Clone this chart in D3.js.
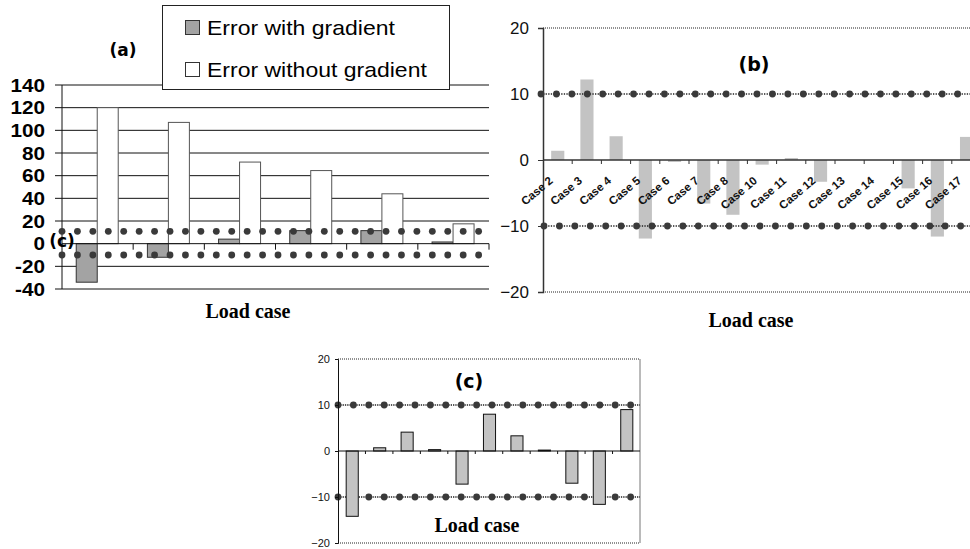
<!DOCTYPE html>
<html>
<head>
<meta charset="utf-8">
<script src="https://cdnjs.cloudflare.com/ajax/libs/d3/7.8.5/d3.min.js"></script>
<style>
body { margin: 0; background: #fff; }
svg { display: block; }
</style>
</head>
<body>
<div id="chart"></div>
<script>
(function() {
var width = 970,
  height = 549;

// (a) error per load case, with / without gradient
var casesA = ["1", "2", "3", "4", "5", "6"];
var withGradient = [-34, -12, 4, 11.5, 11.5, 1.5];
var withoutGradient = [120, 107, 72, 64.5, 44, 17.5];
var ticksA = [-40, -20, 0, 20, 40, 60, 80, 100, 120, 140];

// (b) error with gradient, cases 2-17
var casesB = ["Case 2", "Case 3", "Case 4", "Case 5", "Case 6", "Case 7", "Case 8", "Case 10",
  "Case 11", "Case 12", "Case 13", "Case 14", "Case 15", "Case 16", "Case 17"];
var errorB = [1.4, 12.2, 3.6, -11.9, -0.3, -6.6, -8.3, -0.7, 0.3, -3.3, 0, 0, -4.3, -11.6, 3.5];
var ticksB = [-20, -10, 0, 10, 20];

// (c) error with gradient
var casesC = ["1", "2", "3", "4", "5", "6", "7", "8", "9", "10", "11"];
var errorC = [-14.2, 0.7, 4.1, 0.3, -7.2, 8.0, 3.3, 0.2, -7.0, -11.6, 9.0];
var ticksC = [-20, -10, 0, 10, 20];

// +-10 limit lines
var limits = [10, -10];

var dotColor = "#3a3a3a";

var svg = d3.select("#chart")
  .append("svg")
  .attr("width", width)
  .attr("height", height)
  .style("font-family", "'Liberation Sans', Arial, sans-serif");

function dotRow(g, start, step, n, y) {
  g.selectAll(null)
    .data(d3.range(n))
    .enter().append("circle")
    .attr("cx", function(d) { return start + d * step; })
    .attr("cy", y)
    .attr("r", 3.4)
    .attr("fill", dotColor);
}

function stretched(g, x, y, txt, size, weight, anchor, sx) {
  return g.append("text")
    .attr("transform", "translate(" + x + "," + y + ") scale(" + sx + ",1)")
    .attr("text-anchor", anchor)
    .attr("font-size", size)
    .attr("font-weight", weight)
    .text(txt);
}

/* ---------------- panel (a) ---------------- */
var gA = svg.append("g");
var xA = d3.scaleBand().domain(casesA).range([62, 489]);
var xA1 = d3.scaleBand().domain(["with", "without"])
  .range([xA.bandwidth() * 0.2, xA.bandwidth() * 0.79]);
var yA = d3.scaleLinear().domain([-40, 140]).range([289, 85]);

gA.selectAll(".grid")
  .data(ticksA.filter(function(d) { return d != 0; }))
  .enter().append("line")
  .attr("x1", 55).attr("x2", 489)
  .attr("y1", function(d) { return yA(d); })
  .attr("y2", function(d) { return yA(d); })
  .attr("stroke", "#111")
  .attr("stroke-width", 1);

gA.selectAll(".barw")
  .data(withGradient)
  .enter().append("rect")
  .attr("x", function(d, i) { return xA(casesA[i]) + xA1("with"); })
  .attr("y", function(d) { return yA(Math.max(0, d)); })
  .attr("width", xA1.bandwidth())
  .attr("height", function(d) { return Math.abs(yA(d) - yA(0)); })
  .attr("fill", "#a3a3a3")
  .attr("stroke", "#333");

gA.selectAll(".barwo")
  .data(withoutGradient)
  .enter().append("rect")
  .attr("x", function(d, i) { return xA(casesA[i]) + xA1("without"); })
  .attr("y", function(d) { return yA(Math.max(0, d)); })
  .attr("width", xA1.bandwidth())
  .attr("height", function(d) { return Math.abs(yA(d) - yA(0)); })
  .attr("fill", "#fff")
  .attr("stroke", "#555");

// zero axis with ticks between groups
gA.append("line")
  .attr("x1", 62).attr("x2", 489)
  .attr("y1", yA(0)).attr("y2", yA(0))
  .attr("stroke", "#111");
gA.selectAll(".xtick")
  .data(casesA)
  .enter().append("line")
  .attr("x1", function(d) { return xA(d) + xA.bandwidth(); })
  .attr("x2", function(d) { return xA(d) + xA.bandwidth(); })
  .attr("y1", yA(0)).attr("y2", yA(0) + 6)
  .attr("stroke", "#111");

gA.append("line")
  .attr("x1", 62).attr("x2", 62)
  .attr("y1", yA(140)).attr("y2", yA(-40))
  .attr("stroke", "#111");

ticksA.forEach(function(t) {
  stretched(gA, 45, yA(t) + 6.5, t, 18, "bold", "end", 1.15);
});

limits.forEach(function(l) {
  dotRow(gA, 62, 15.43, 28, yA(l) - (l > 0 ? 1 : 0));
});

stretched(gA, 62, 247, "(c)", 17, "bold", "middle", 1)
  .style("font-family", "'DejaVu Sans', sans-serif");
stretched(gA, 123, 56, "(a)", 17, "bold", "middle", 1)
  .style("font-family", "'DejaVu Sans', sans-serif");

gA.append("text")
  .attr("x", 248).attr("y", 318)
  .attr("text-anchor", "middle")
  .attr("font-family", "'Liberation Serif', 'Times New Roman', serif")
  .attr("font-weight", "bold")
  .attr("font-size", 20)
  .text("Load case");

// legend
var legend = gA.append("g");
legend.append("rect")
  .attr("x", 162.5).attr("y", 5.5)
  .attr("width", 287).attr("height", 84)
  .attr("fill", "#fff")
  .attr("stroke", "#222");
legend.append("rect")
  .attr("x", 185.5).attr("y", 20.5).attr("width", 14).attr("height", 14)
  .attr("fill", "#a3a3a3").attr("stroke", "#333");
legend.append("rect")
  .attr("x", 185.5).attr("y", 62.5).attr("width", 14).attr("height", 14)
  .attr("fill", "#fff").attr("stroke", "#333");
stretched(legend, 207, 35, "Error with gradient", 20, "normal", "start", 1.15);
stretched(legend, 207, 77, "Error without gradient", 20, "normal", "start", 1.15);

/* ---------------- panel (b) ---------------- */
var gB = svg.append("g");
var xB = d3.scaleBand().domain(casesB).range([543, 543 + 15 * 29.2]);
var yB = d3.scaleLinear().domain([-20, 20]).range([292, 28]);

[20, -20].forEach(function(t) {
  gB.append("line")
    .attr("x1", 543).attr("x2", width)
    .attr("y1", yB(t)).attr("y2", yB(t))
    .attr("stroke", "#222")
    .attr("stroke-dasharray", "1,1");
});

gB.selectAll(".bar")
  .data(errorB)
  .enter().append("rect")
  .attr("x", function(d, i) { return xB(casesB[i]) + xB.bandwidth() * 0.28; })
  .attr("y", function(d) { return yB(Math.max(0, d)); })
  .attr("width", xB.bandwidth() * 0.45)
  .attr("height", function(d) { return Math.abs(yB(d) - yB(0)); })
  .attr("fill", "#c3c3c3");

gB.append("line")
  .attr("x1", 543).attr("x2", width)
  .attr("y1", yB(0)).attr("y2", yB(0))
  .attr("stroke", "#333").attr("stroke-width", 1.3);
gB.selectAll(".xtick")
  .data(casesB)
  .enter().append("line")
  .attr("x1", function(d) { return xB(d) + xB.bandwidth(); })
  .attr("x2", function(d) { return xB(d) + xB.bandwidth(); })
  .attr("y1", yB(0)).attr("y2", yB(0) + 4)
  .attr("stroke", "#333");

gB.append("g")
  .attr("transform", "translate(543,0)")
  .call(d3.axisLeft(yB).tickValues(ticksB).tickSize(5).tickPadding(9))
  .call(function(g) {
    g.select(".domain").attr("stroke", "#333").attr("stroke-width", 1.5);
    g.selectAll("line").attr("stroke", "#333");
    g.selectAll("text")
      .attr("font-size", 17)
      .attr("font-family", "'Liberation Sans', Arial, sans-serif")
      .attr("fill", "#111");
  });

limits.forEach(function(l, i) {
  gB.append("line")
    .attr("x1", 543).attr("x2", width)
    .attr("y1", yB(l)).attr("y2", yB(l))
    .attr("stroke", "#222").attr("stroke-width", 1.3)
    .attr("stroke-dasharray", "1.3,1.3");
  dotRow(gB, i == 0 ? 541 : 544, 15.43, 28, yB(l));
});

gB.selectAll(".xlab")
  .data(casesB)
  .enter().append("text")
  .attr("transform", function(d) {
    return "translate(" + (xB(d) + xB.bandwidth() / 2 - 4) + ",182) rotate(-40)";
  })
  .attr("text-anchor", "end")
  .attr("font-size", 11.5)
  .attr("font-weight", "bold")
  .attr("fill", "#111")
  .text(function(d) { return d; });

gB.append("text")
  .attr("x", 754).attr("y", 71)
  .attr("text-anchor", "middle")
  .attr("font-family", "'DejaVu Sans', sans-serif")
  .attr("font-weight", "bold")
  .attr("font-size", 19)
  .text("(b)");

gB.append("text")
  .attr("x", 751).attr("y", 327)
  .attr("text-anchor", "middle")
  .attr("font-family", "'Liberation Serif', 'Times New Roman', serif")
  .attr("font-weight", "bold")
  .attr("font-size", 20)
  .text("Load case");

/* ---------------- panel (c) ---------------- */
var gC = svg.append("g");
var xC = d3.scaleBand().domain(casesC).range([338, 640]);
var yC = d3.scaleLinear().domain([-20, 20]).range([543, 359]);

[20, -20].forEach(function(t) {
  gC.append("line")
    .attr("x1", 338).attr("x2", 640)
    .attr("y1", yC(t)).attr("y2", yC(t))
    .attr("stroke", "#222")
    .attr("stroke-dasharray", "1,1");
});
gC.append("line")
  .attr("x1", 640).attr("x2", 640)
  .attr("y1", yC(20)).attr("y2", yC(-20))
  .attr("stroke", "#777");

limits.forEach(function(l) {
  gC.append("line")
    .attr("x1", 338).attr("x2", 640)
    .attr("y1", yC(l)).attr("y2", yC(l))
    .attr("stroke", "#222").attr("stroke-width", 1.3)
    .attr("stroke-dasharray", "1.3,1");
  dotRow(gC, 338, 15.4, 20, yC(l));
});

gC.selectAll(".bar")
  .data(errorC)
  .enter().append("rect")
  .attr("x", function(d, i) { return xC(casesC[i]) + xC.bandwidth() * 0.28 + 0.5; })
  .attr("y", function(d) { return yC(Math.max(0, d)); })
  .attr("width", xC.bandwidth() * 0.44)
  .attr("height", function(d) { return Math.abs(yC(d) - yC(0)); })
  .attr("fill", "#c3c3c3")
  .attr("stroke", "#111");

gC.append("line")
  .attr("x1", 338).attr("x2", 640)
  .attr("y1", yC(0)).attr("y2", yC(0))
  .attr("stroke", "#111");
gC.selectAll(".xtick")
  .data(casesC.slice(0, casesC.length - 1))
  .enter().append("line")
  .attr("x1", function(d) { return xC(d) + xC.bandwidth(); })
  .attr("x2", function(d) { return xC(d) + xC.bandwidth(); })
  .attr("y1", yC(0)).attr("y2", yC(0) + 3)
  .attr("stroke", "#111");

gC.append("g")
  .attr("transform", "translate(338,0)")
  .call(d3.axisLeft(yC).tickValues(ticksC).tickSize(3).tickPadding(5))
  .call(function(g) {
    g.select(".domain").attr("stroke", "#111");
    g.selectAll("line").attr("stroke", "#111");
    g.selectAll("text")
      .attr("font-size", 11)
      .attr("font-family", "'Liberation Sans', Arial, sans-serif")
      .attr("fill", "#111");
  });

gC.append("text")
  .attr("x", 469).attr("y", 388)
  .attr("text-anchor", "middle")
  .attr("font-family", "'DejaVu Sans', sans-serif")
  .attr("font-weight", "bold")
  .attr("font-size", 19)
  .text("(c)");

gC.append("text")
  .attr("x", 477).attr("y", 532)
  .attr("text-anchor", "middle")
  .attr("font-family", "'Liberation Serif', 'Times New Roman', serif")
  .attr("font-weight", "bold")
  .attr("font-size", 20)
  .text("Load case");
})();
</script>
</body>
</html>
